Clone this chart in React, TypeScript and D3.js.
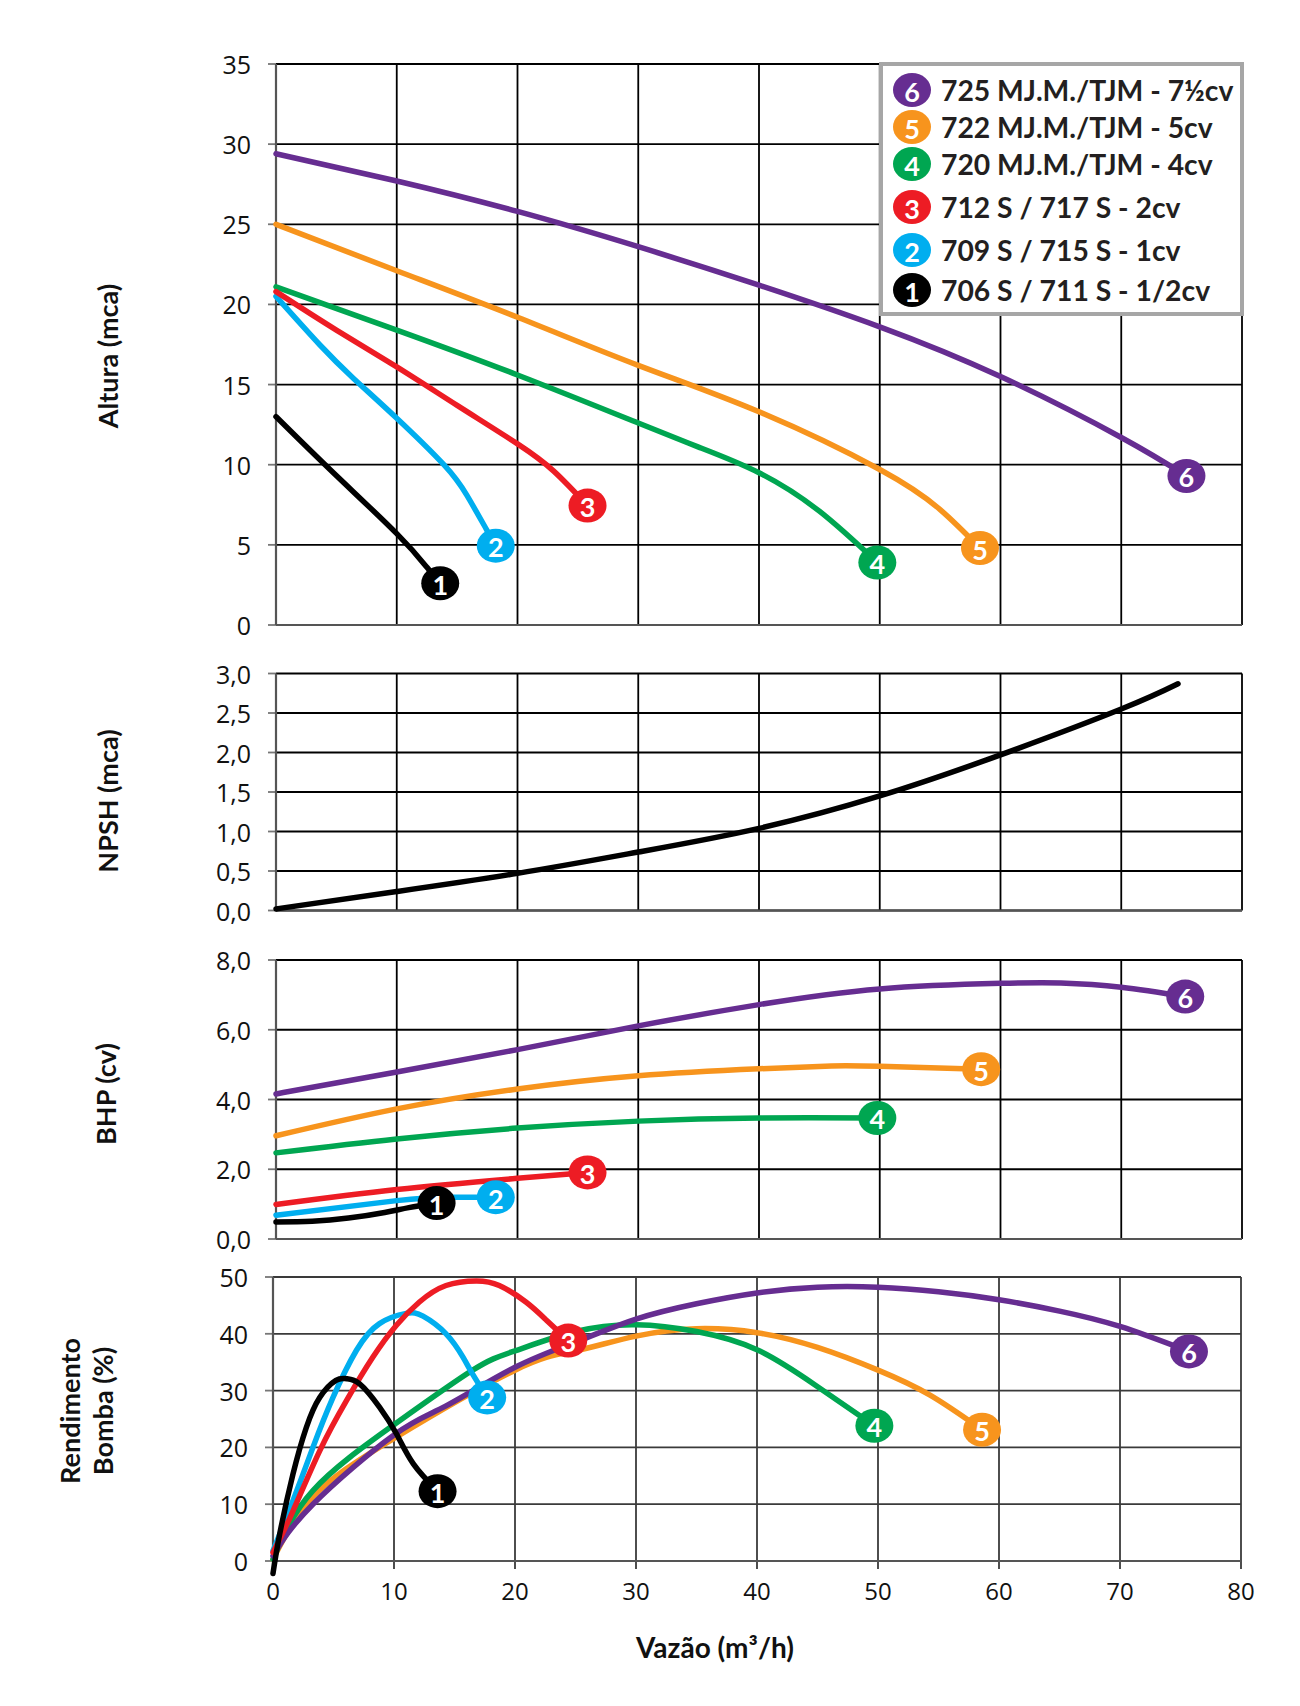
import React from 'react'
import * as d3 from 'd3'

// ---- data ----
const seriesIds = [6, 5, 4, 3, 2, 1]
const seriesNames = [
  '725 MJ.M./TJM - 7½cv',
  '722 MJ.M./TJM - 5cv',
  '720 MJ.M./TJM - 4cv',
  '712 S / 717 S - 2cv',
  '709 S / 715 S - 1cv',
  '706 S / 711 S - 1/2cv',
]

const flowTicks = [0, 10, 20, 30, 40, 50, 60, 70, 80]
const alturaTicks = [0, 5, 10, 15, 20, 25, 30, 35]
const npshTicks = [0, 0.5, 1, 1.5, 2, 2.5, 3]
const bhpTicks = [0, 2, 4, 6, 8]
const rendTicks = [0, 10, 20, 30, 40, 50]

type Pt = [number, number]

// Altura (mca) vs vazão (m3/h)
const altura6: Pt[] = [[0, 29.4], [10, 27.7], [20, 25.8], [30, 23.6], [40, 21.2], [50, 18.6], [60, 15.5], [70, 11.7], [75.4, 9.3]]
const altura5: Pt[] = [[0, 25.0], [10, 22.1], [20, 19.2], [30, 16.2], [40, 13.3], [50, 9.7], [55, 7.2], [58.3, 4.8]]
const altura4: Pt[] = [[0, 21.1], [10, 18.4], [20, 15.6], [30, 12.6], [35, 11.1], [40, 9.5], [45, 7.1], [49.8, 3.9]]
const altura3: Pt[] = [[0, 20.8], [5, 18.4], [10, 16.1], [15, 13.7], [20, 11.3], [23, 9.6], [25.8, 7.45]]
const altura2: Pt[] = [[0, 20.5], [3.6, 17.5], [6.4, 15.4], [10, 12.9], [13.9, 10.0], [15.8, 8.1], [17.4, 6.0], [18.2, 4.95]]
const altura1: Pt[] = [[0, 13.0], [4.75, 9.5], [10, 5.7], [12.5, 3.6], [13.6, 2.6]]

// NPSH (mca)
const npsh: Pt[] = [[0, 0.02], [10, 0.24], [20, 0.47], [30, 0.74], [40, 1.04], [50, 1.45], [60, 1.97], [70, 2.55], [74.7, 2.87]]

// BHP (cv)
const bhp6: Pt[] = [[0, 4.16], [10, 4.79], [20, 5.43], [30, 6.11], [40, 6.72], [50, 7.17], [60, 7.33], [65, 7.34], [70, 7.22], [75.3, 6.95]]
const bhp5: Pt[] = [[0, 2.96], [10, 3.73], [20, 4.3], [30, 4.68], [40, 4.88], [46, 4.96], [50, 4.95], [58.4, 4.87]]
const bhp4: Pt[] = [[0, 2.47], [10, 2.87], [20, 3.18], [30, 3.38], [40, 3.47], [49.8, 3.47]]
const bhp3: Pt[] = [[0, 0.99], [10, 1.42], [20, 1.74], [25.8, 1.91]]
const bhp2: Pt[] = [[0, 0.68], [10, 1.1], [14, 1.2], [18.2, 1.2]]
const bhp1: Pt[] = [[0, 0.49], [3, 0.51], [6, 0.6], [9, 0.76], [11, 0.9], [13.3, 1.03]]

// Rendimento bomba (%)
const rend6: Pt[] = [[0, 0.9], [3.3, 10], [10, 22.2], [14.3, 27.3], [20, 34.1], [25.3, 38.8], [30, 42.6], [35, 45.3], [40, 47.2], [45, 48.2], [50, 48.2], [55, 47.4], [60, 46.0], [65, 44.0], [70, 41.3], [75.7, 36.9]]
const rend5: Pt[] = [[0, 0.3], [3.3, 11.3], [10, 21.6], [20, 33.6], [25, 37.0], [30, 39.6], [35, 40.9], [40, 40.2], [45, 37.6], [50, 33.6], [54.3, 29.2], [58.6, 23.1]]
const rend4: Pt[] = [[0, 0.3], [3.3, 12.4], [10, 24.0], [16.5, 33.6], [20, 37.0], [25, 40.4], [30, 41.6], [35, 40.4], [40, 37.2], [44.8, 31.0], [49.7, 23.8]]
const rend3: Pt[] = [[0, 1.5], [1.65, 8.8], [3.86, 19.4], [6.06, 28.2], [8.26, 35.9], [10.2, 41.5], [12.1, 45.6], [14.3, 48.5], [16.8, 49.3], [18.7, 48.5], [20.9, 45.6], [22.6, 42.4], [24.4, 38.8]]
const rend2: Pt[] = [[0, 1.8], [1.65, 10.6], [3.3, 20], [4.96, 28.8], [6.9, 37.1], [8.8, 41.8], [11, 43.6], [12.4, 43.1], [14.3, 40], [15.7, 35.9], [16.5, 32.9], [17.7, 28.8]]
const rend1: Pt[] = [[0, -2.2], [0.55, 4.7], [1.65, 15.3], [2.75, 23.5], [3.86, 28.8], [5.2, 31.8], [6.06, 32.1], [7.16, 31.2], [8.8, 27.1], [10.2, 22.4], [11.6, 17.1], [13.6, 12.3]]

// ---- styles ----
const COLORS: Record<number, string> = {
  6: '#662d91',
  5: '#f7941d',
  4: '#00a651',
  3: '#ed1c24',
  2: '#00aeef',
  1: '#000000',
}
const DRAW_ORDER = [5, 4, 6, 2, 3, 1]
const TICK_FONT = "'Open Sans', 'Noto Sans', sans-serif"
const BOLD_FONT = "Lato, 'Open Sans', sans-serif"
const LEGEND_ROWS = [90, 127, 164, 207, 250, 290]

const comma = (d: number) => d3.format('.1f')(d).replace('.', ',')

const panels = [
  {
    key: 'altura', top: 64, bottom: 625, left: 276, right: 1242,
    domain: [0, 35], ticks: alturaTicks, fmt: (d: number) => String(d),
    curves: { 6: altura6, 5: altura5, 4: altura4, 3: altura3, 2: altura2, 1: altura1 } as Record<number, Pt[]>,
    markers: true, title: ['Altura (mca)'], titleX: 108, titleY: 356, grid: '#000',
  },
  {
    key: 'npsh', top: 673.5, bottom: 910.5, left: 276, right: 1242,
    domain: [0, 3], ticks: npshTicks, fmt: comma,
    curves: { 1: npsh } as Record<number, Pt[]>,
    markers: false, title: ['NPSH (mca)'], titleX: 108, titleY: 801, grid: '#000',
  },
  {
    key: 'bhp', top: 960, bottom: 1239, left: 276, right: 1242,
    domain: [0, 8], ticks: bhpTicks, fmt: comma,
    curves: { 6: bhp6, 5: bhp5, 4: bhp4, 3: bhp3, 2: bhp2, 1: bhp1 } as Record<number, Pt[]>,
    markers: true, title: ['BHP (cv)'], titleX: 106, titleY: 1094, grid: '#000',
  },
  {
    key: 'rend', top: 1277, bottom: 1561, left: 273, right: 1241,
    domain: [0, 50], ticks: rendTicks, fmt: (d: number) => String(d),
    curves: { 6: rend6, 5: rend5, 4: rend4, 3: rend3, 2: rend2, 1: rend1 } as Record<number, Pt[]>,
    markers: true, title: ['Rendimento', 'Bomba (%)'], titleX: 87, titleY: 1411, grid: '#3a3a3a',
  },
]

function Marker({ x, y, id }: { x: number; y: number; id: number }) {
  return (
    <g>
      <ellipse cx={x} cy={y} rx={19} ry={17} fill={COLORS[id]} />
      <text
        x={x}
        y={y + 1}
        textAnchor="middle"
        dominantBaseline="central"
        fill="#fff"
        fontSize={27}
        fontWeight={700}
        fontFamily={BOLD_FONT}
      >
        {id}
      </text>
    </g>
  )
}

function Panel({ p, isLast }: { p: (typeof panels)[number]; isLast: boolean }) {
  const x = d3.scaleLinear().domain([0, 80]).range([p.left, p.right])
  const y = d3.scaleLinear().domain(p.domain).range([p.bottom, p.top])
  const line = d3
    .line<Pt>()
    .x((d) => x(d[0]))
    .y((d) => y(d[1]))
    .curve(d3.curveNatural)

  const ids = DRAW_ORDER.filter((id) => p.curves[id])

  return (
    <g>
      {/* horizontal grid + y ticks */}
      {p.ticks.map((t) => (
        <g key={'h' + t}>
          <line x1={p.left - 8} x2={p.left} y1={y(t)} y2={y(t)} stroke="#777" strokeWidth={1.8} />
          <line x1={p.left} x2={p.right} y1={y(t)} y2={y(t)} stroke={p.grid} strokeWidth={1.8} />
          <text
            x={p.left - 25}
            y={y(t)}
            textAnchor="end"
            dominantBaseline="central"
            fontSize={25}
            fontFamily={TICK_FONT}
            fill="#111"
          >
            {p.fmt(t)}
          </text>
        </g>
      ))}
      {/* vertical grid */}
      {flowTicks.slice(1).map((t) => (
        <line key={'v' + t} x1={x(t)} x2={x(t)} y1={p.top} y2={p.bottom + (isLast ? 8 : 0)} stroke={p.grid} strokeWidth={1.8} />
      ))}
      <line x1={p.left} x2={p.left} y1={p.top} y2={p.bottom + (isLast ? 8 : 0)} stroke="#555" strokeWidth={2.2} />
      <line x1={p.left} x2={p.right} y1={p.bottom} y2={p.bottom} stroke="#555" strokeWidth={2} />

      {/* curves */}
      {ids.map((id) => (
        <path
          key={'c' + id}
          d={line(p.curves[id]) || ''}
          fill="none"
          stroke={COLORS[id]}
          strokeWidth={5.5}
          strokeLinecap="round"
          strokeLinejoin="round"
        />
      ))}
      {p.markers &&
        ids.map((id) => {
          const pts = p.curves[id]
          const last = pts[pts.length - 1]
          return <Marker key={'m' + id} x={x(last[0])} y={y(last[1])} id={id} />
        })}

      {/* axis title */}
      <text
        transform={`translate(${p.titleX},${p.titleY}) rotate(-90)`}
        textAnchor="middle"
        fontSize={27}
        fontWeight={700}
        fontFamily={BOLD_FONT}
        fill="#111"
      >
        {p.title.map((s, i) => (
          <tspan key={s} x={0} dy={i === 0 ? (p.title.length > 1 ? -7 : 9.5) : 32.5}>
            {s}
          </tspan>
        ))}
      </text>

      {isLast &&
        flowTicks.map((t) => (
          <text
            key={'xt' + t}
            x={x(t)}
            y={1600}
            textAnchor="middle"
            fontSize={24}
            fontFamily={TICK_FONT}
            fill="#111"
          >
            {t}
          </text>
        ))}
    </g>
  )
}

function Legend() {
  return (
    <g>
      <rect x={881} y={64} width={361} height={250} fill="#fff" stroke="#a6a6a6" strokeWidth={4} />
      {seriesIds.map((id, i) => (
        <g key={id}>
          <Marker x={912} y={LEGEND_ROWS[i]} id={id} />
          <text
            x={941}
            y={LEGEND_ROWS[i]}
            dominantBaseline="central"
            fontSize={28.3}
            fontWeight={700}
            fontFamily={BOLD_FONT}
            fill="#231f20"
          >
            {seriesNames[i]}
          </text>
        </g>
      ))}
    </g>
  )
}

export default function App() {
  return (
    <svg
      width={1300}
      height={1706}
      viewBox="0 0 1300 1706"
      style={{ position: 'absolute', left: 0, top: 0, background: '#fff' }}
    >
      <rect width={1300} height={1706} fill="#fff" />
      {panels.map((p, i) => (
        <Panel key={p.key} p={p} isLast={i === panels.length - 1} />
      ))}
      <Legend />
      <text
        x={715}
        y={1658}
        textAnchor="middle"
        fontSize={28}
        fontWeight={700}
        fontFamily={BOLD_FONT}
        fill="#111"
      >
        Vazão (m³/h)
      </text>
    </svg>
  )
}
